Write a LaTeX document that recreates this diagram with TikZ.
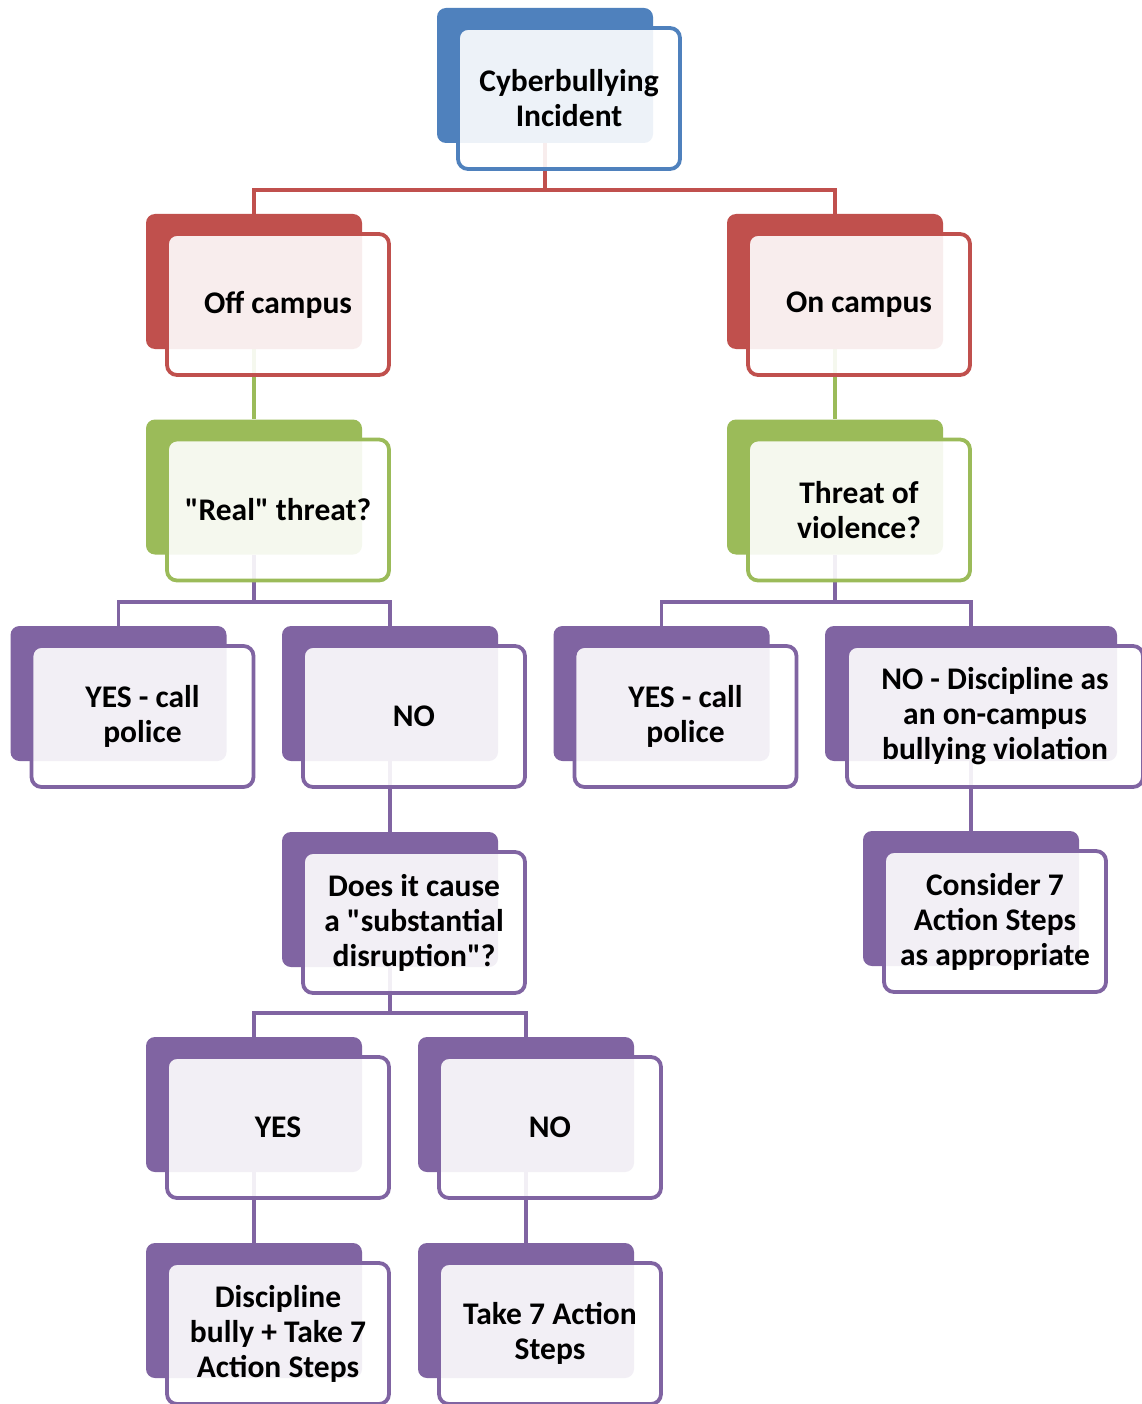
\documentclass[tikz,border=0pt]{standalone}
\usepackage{fontspec}
\setmainfont{Carlito}[Ligatures=TeXOff]
\usetikzlibrary{backgrounds}
\definecolor{bluebox}{HTML}{4F81BD}
\definecolor{redbox}{HTML}{C0504D}
\definecolor{greenbox}{HTML}{9BBB59}
\definecolor{purplebox}{HTML}{8064A2}
\tikzset{
  backbox/.style={rectangle, rounded corners=9pt, fill=#1, inner sep=0pt,
    minimum width=216pt, minimum height=135pt},
  frontbox/.style={rectangle, rounded corners=10pt, draw=#1, line width=3.8pt,
    fill=white, fill opacity=0.9, text opacity=1, inner sep=2pt,
    minimum width=222pt, minimum height=141pt, align=center,
    font=\bfseries\fontsize{31.5}{35}\selectfont},
  link/.style={draw=#1, line width=3.8pt},
}
\begin{document}
\begin{tikzpicture}[x=1pt,y=-1pt]
    \begin{scope}[on background layer]
        \fill[white] (0,0) rectangle (1141,1404);
    \end{scope}
    \useasboundingbox (0,0) rectangle (1141,1404);
    % top
    \node[backbox=bluebox] (root) at (545,75.5) {};
    \node[frontbox=bluebox] (rootf) at ([shift={(24,23)}]root.center) {Cyberbullying\\Incident};
    % second row
    \node[backbox=redbox] (off) at (254,281.5) {};
    \node[frontbox=redbox] (offf) at ([shift={(24,23)}]off.center) {Off campus};
    \node[backbox=redbox] (on) at (835,281.5) {};
    \node[frontbox=redbox] (onf) at ([shift={(24,23)}]on.center) {On campus};
    % third row
    \node[backbox=greenbox] (real) at (254,487) {};
    \node[frontbox=greenbox] (realf) at ([shift={(24,23)}]real.center) {"Real" threat?};
    \node[backbox=greenbox] (threat) at (835,487) {};
    \node[frontbox=greenbox] (threatf) at ([shift={(24,23)}]threat.center) {Threat of\\violence?};
    % fourth row
    \node[backbox=purplebox] (yesa) at (118.5,693.5) {};
    \node[frontbox=purplebox] (yesaf) at ([shift={(24,23)}]yesa.center) {YES - call\\police};
    \node[backbox=purplebox] (noa) at (390,693.5) {};
    \node[frontbox=purplebox] (noaf) at ([shift={(24,23)}]noa.center) {NO};
    \node[backbox=purplebox] (yesb) at (661.5,693.5) {};
    \node[frontbox=purplebox] (yesbf) at ([shift={(24,23)}]yesb.center) {YES - call\\police};
    \node[backbox=purplebox, minimum width=292pt] (nob) at (971,693.5) {};
    \node[frontbox=purplebox, minimum width=296pt] (nobf) at ([shift={(24,23)}]nob.center) {NO - Discipline as\\an on-campus\\bullying violation};
    % fifth row
    \node[backbox=purplebox] (cause) at (390,899.5) {};
    \node[frontbox=purplebox] (causef) at ([shift={(24,23)}]cause.center) {Does it cause\\a "substantial\\disruption"?};
    \node[backbox=purplebox] (consider) at (971,898.5) {};
    \node[frontbox=purplebox] (considerf) at ([shift={(24,23)}]consider.center) {Consider 7\\Action Steps\\as appropriate};
    % sixth row
    \node[backbox=purplebox] (yesc) at (254,1104.5) {};
    \node[frontbox=purplebox] (yescf) at ([shift={(24,23)}]yesc.center) {YES};
    \node[backbox=purplebox] (noc) at (526,1104.5) {};
    \node[frontbox=purplebox] (nocf) at ([shift={(24,23)}]noc.center) {NO};
    % last row
    \node[backbox=purplebox] (disc) at (254,1310.5) {};
    \node[frontbox=purplebox] (discf) at ([shift={(24,23)}]disc.center) {Discipline\\bully + Take 7\\Action Steps};
    \node[backbox=purplebox] (take) at (526,1310.5) {};
    \node[frontbox=purplebox] (takef) at ([shift={(24,23)}]take.center) {Take 7 Action\\Steps};
    % connectors
    \begin{scope}[on background layer]
        \draw[link=redbox] (root.south) -- ++(0,47) -| (off.north);
        \draw[link=redbox] (root.south) -- ++(0,47) -| (on.north);
        \draw[link=greenbox] (off.south) -- (real.north);
        \draw[link=greenbox] (on.south) -- (threat.north);
        \draw[link=purplebox] (real.south) -- ++(0,47) -| (yesa.north);
        \draw[link=purplebox] (real.south) -- ++(0,47) -| (noa.north);
        \draw[link=purplebox] (threat.south) -- ++(0,47) -| (yesb.north);
        \draw[link=purplebox] (threat.south) -- ++(0,47) -| (nob.north);
        \draw[link=purplebox] (noa.south) -- (cause.north);
        \draw[link=purplebox] (nob.south) -- (consider.north);
        \draw[link=purplebox] (cause.south) -- ++(0,46) -| (yesc.north);
        \draw[link=purplebox] (cause.south) -- ++(0,46) -| (noc.north);
        \draw[link=purplebox] (yesc.south) -- (disc.north);
        \draw[link=purplebox] (noc.south) -- (take.north);
    \end{scope}
\end{tikzpicture}
\end{document}
